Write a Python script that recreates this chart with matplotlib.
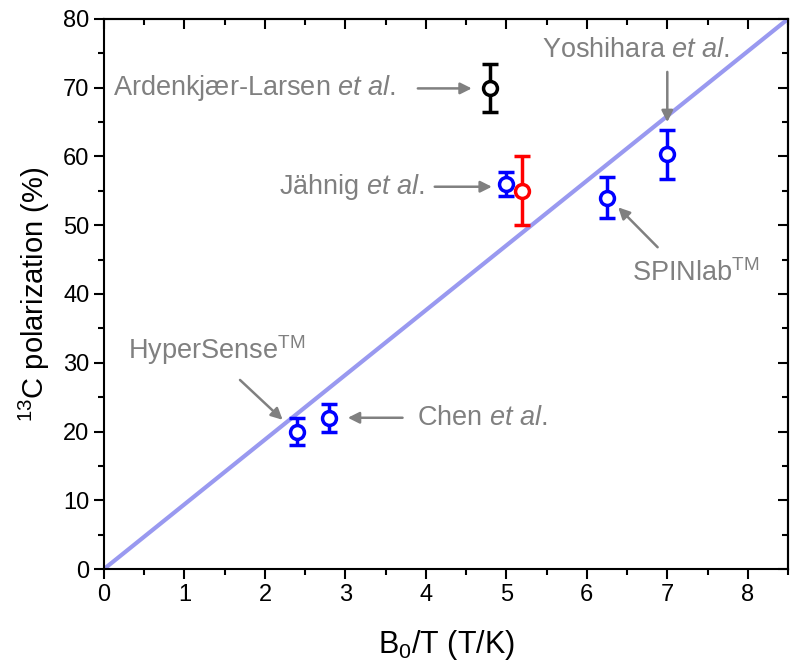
import numpy as np
import matplotlib.pyplot as plt
from matplotlib.ticker import MultipleLocator

plt.rcParams['font.family'] = ['Liberation Sans', 'DejaVu Sans']
plt.rcParams['mathtext.fontset'] = 'custom'
plt.rcParams['mathtext.rm'] = 'Liberation Sans'
plt.rcParams['mathtext.it'] = 'Liberation Sans:italic'

# Dados
b0_t = [4.8, 5.0, 5.2, 6.25, 7.0, 2.4, 2.8]
polarizacao = [70.0, 56.0, 55.0, 54.0, 60.3, 20.0, 22.0]
erro = [3.5, 1.8, 5.0, 3.0, 3.6, 2.0, 2.0]
cores = ['black', 'blue', 'red', 'blue', 'blue', 'blue', 'blue']

# reta teórica
linha_x = [0, 8.5]
linha_y = [0, 80]

cinza = '#808080'

fig = plt.figure(figsize=(8, 6.7), dpi=100)
ax = fig.add_axes([0.13, 0.1507, 0.855, 0.821])

ax.plot(linha_x, linha_y, color='#9999f0', lw=3, zorder=1)

for xi, yi, ei, c in zip(b0_t, polarizacao, erro, cores):
    ax.errorbar(xi, yi, yerr=ei, fmt='o', color=c, mfc='white', mec=c,
                ms=10, mew=2.5, elinewidth=2.5, capsize=6, capthick=2.5, zorder=3)

# Anotações
seta = dict(arrowstyle='-|>', color=cinza, lw=1.8, mutation_scale=17, shrinkA=0, shrinkB=0)
fs = 19.5
ax.text(3.63, 69.9, 'Ardenkjær-Larsen $\\mathit{et\\ al.}$', ha='right', va='center', fontsize=fs, color=cinza)
ax.annotate('', xy=(4.57, 69.9), xytext=(3.90, 69.9), arrowprops=seta)
ax.text(3.99, 55.6, 'Jähnig $\\mathit{et\\ al.}$', ha='right', va='center', fontsize=fs, color=cinza)
ax.annotate('', xy=(4.82, 55.6), xytext=(4.11, 55.6), arrowprops=seta)
ax.text(6.61, 75.5, 'Yoshihara $\\mathit{et\\ al.}$', ha='center', va='center', fontsize=fs, color=cinza)
ax.annotate('', xy=(7.0, 65.0), xytext=(7.0, 72.3), arrowprops=seta)
ax.text(6.56, 43.0, 'SPINlab$^{\\mathrm{TM}}$', ha='left', va='center', fontsize=fs, color=cinza)
ax.annotate('', xy=(6.39, 52.6), xytext=(6.88, 46.8), arrowprops=seta)
ax.text(0.30, 31.8, 'HyperSense$^{\\mathrm{TM}}$', ha='left', va='center', fontsize=fs, color=cinza)
ax.annotate('', xy=(2.22, 21.7), xytext=(1.69, 27.5), arrowprops=seta)
ax.text(3.89, 22.0, 'Chen $\\mathit{et\\ al.}$', ha='left', va='center', fontsize=fs, color=cinza)
ax.annotate('', xy=(3.03, 22.0), xytext=(3.71, 22.0), arrowprops=seta)

ax.set_xlim(0, 8.5)
ax.set_ylim(0, 80)
ax.xaxis.set_major_locator(MultipleLocator(1))
ax.xaxis.set_minor_locator(MultipleLocator(0.5))
ax.yaxis.set_major_locator(MultipleLocator(10))
ax.yaxis.set_minor_locator(MultipleLocator(5))
ax.tick_params(which='major', direction='out', length=7, width=1.5, labelsize=17)
ax.tick_params(which='minor', direction='out', length=4, width=1.5)

# ticks espelhados no topo e à direita (para dentro)
top = ax.secondary_xaxis('top')
top.xaxis.set_major_locator(MultipleLocator(1))
top.xaxis.set_minor_locator(MultipleLocator(0.5))
top.tick_params(which='major', direction='in', length=7, width=1.5, labeltop=False)
top.tick_params(which='minor', direction='in', length=4, width=1.5)
right = ax.secondary_yaxis('right')
right.yaxis.set_major_locator(MultipleLocator(10))
right.yaxis.set_minor_locator(MultipleLocator(5))
right.tick_params(which='major', direction='in', length=7, width=1.5, labelright=False)
right.tick_params(which='minor', direction='in', length=4, width=1.5)

for s in list(ax.spines.values()) + [top.spines['top'], right.spines['right']]:
    s.set_linewidth(1.5)

ax.set_xlabel('B$_{\\mathregular{0}}$/T (T/K)', fontsize=22, labelpad=16)
ax.set_ylabel('$^{13}$C polarization (%)', fontsize=21, labelpad=8)

fig.savefig('out.png', dpi=100)
